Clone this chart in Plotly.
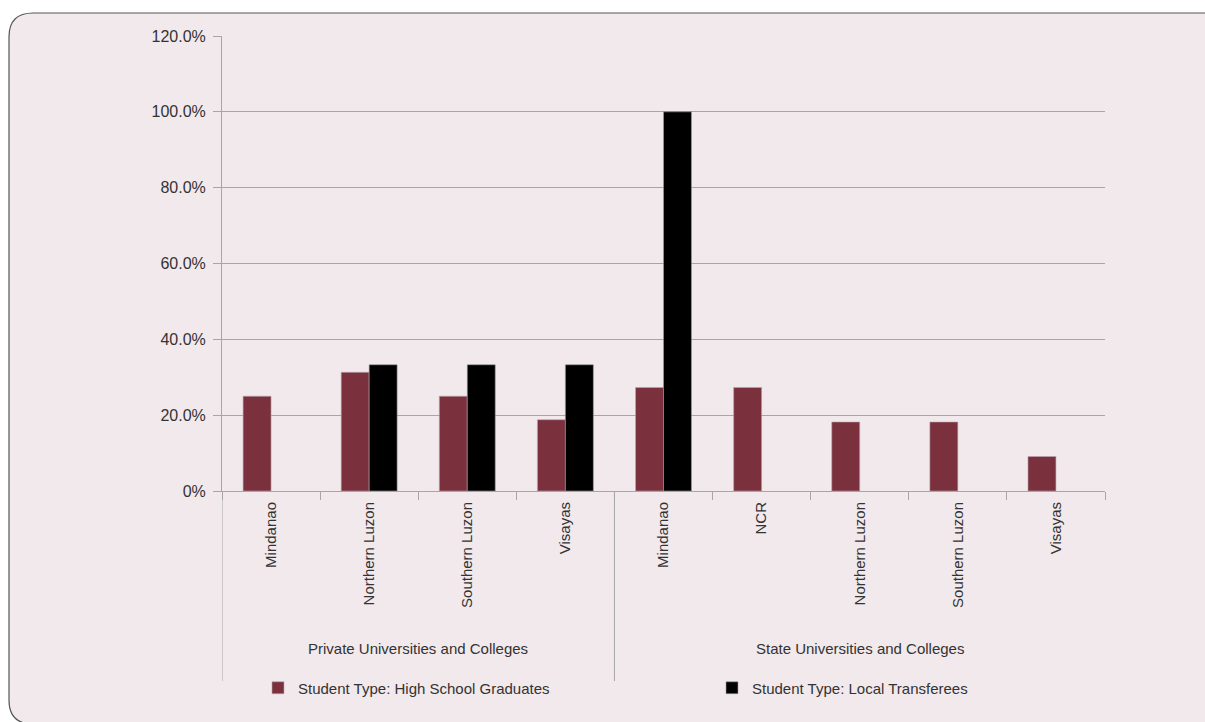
import plotly.graph_objects as go

group_names = ["Private Universities and Colleges", "State Universities and Colleges"]
group_sizes = [4, 5]
regions = ["Mindanao", "Northern Luzon", "Southern Luzon", "Visayas",
           "Mindanao", "NCR", "Northern Luzon", "Southern Luzon", "Visayas"]
high_school = [25.0, 31.3, 25.0, 18.8, 27.3, 27.3, 18.2, 18.2, 9.1]
transferees = [None, 33.3, 33.3, 33.3, 100.0, None, None, None, None]
ytick_vals = [0, 20, 40, 60, 80, 100, 120]
ytick_text = ["0%", "20.0%", "40.0%", "60.0%", "80.0%", "100.0%", "120.0%"]

FONT = "Liberation Sans, Arial, sans-serif"
BG = "#F2E9EC"
GRID = "#A6A6A6"
TXT = "#333333"

W, H = 1205, 722
ML, MR, MT, MB = 222, 100, 36, 231
PW, PH = W - ML - MR, H - MT - MB

xpos = list(range(len(regions)))

fig = go.Figure()
fig.add_trace(go.Bar(x=xpos, y=high_school,
                     name="Student Type: High School Graduates", legend="legend",
                     marker=dict(color="#7A303D", line=dict(color="#B8A8AC", width=0.6))))
fig.add_trace(go.Bar(x=xpos, y=transferees,
                     name="Student Type: Local Transferees", legend="legend2",
                     marker=dict(color="#000000", line=dict(color="#A0A0A0", width=0.6))))

def px2paper(x, y):
    return (x - ML) / PW, 1 - (y - MT) / PH

def py2paper(y):
    return 1 - (y - MT) / PH

# rounded background frame
x0, y0, x1, y1, r = 9, 13, 1240, 724, 24
def P(x, y):
    px, py = px2paper(x, y)
    return f"{px:.5f},{py:.5f}"
path = (f"M {P(x0 + r, y0)} L {P(x1, y0)} L {P(x1, y1)} L {P(x0 + r, y1)} "
        f"Q {P(x0, y1)} {P(x0, y1 - r)} L {P(x0, y0 + r)} Q {P(x0, y0)} {P(x0 + r, y0)} Z")
fig.add_shape(type="path", path=path, xref="paper", yref="paper",
              fillcolor=BG, line=dict(color="#555555", width=1.2), layer="below")

# group dividers and group labels
start = 0
bounds = [-0.5]
for name, n in zip(group_names, group_sizes):
    center = start + (n - 1) / 2
    fig.add_annotation(x=center, xref="x", y=py2paper(648), yref="paper",
                       text=name, showarrow=False, yanchor="middle",
                       font=dict(family=FONT, size=15, color=TXT))
    start += n
    bounds.append(start - 0.5)
for b in bounds[:-1]:
    fig.add_shape(type="line", xref="x", yref="paper", x0=b, x1=b,
                  y0=0, y1=py2paper(681), line=dict(color=GRID, width=1))

legend_common = dict(orientation="h", yanchor="middle", xanchor="left",
                     y=py2paper(688), bgcolor="rgba(0,0,0,0)",
                     font=dict(family=FONT, size=15, color=TXT), itemwidth=30)

fig.update_layout(
    width=W, height=H,
    margin=dict(l=ML, r=MR, t=MT, b=MB, autoexpand=False),
    paper_bgcolor="white", plot_bgcolor="rgba(0,0,0,0)",
    barmode="group", bargap=0.43, bargroupgap=0,
    font=dict(family=FONT, size=15, color=TXT),
    showlegend=True,
    legend=dict(x=(258 - ML) / PW, **legend_common),
    legend2=dict(x=(712 - ML) / PW, **legend_common),
    yaxis=dict(range=[0, 120], tickvals=ytick_vals, ticktext=ytick_text,
               showgrid=True, gridcolor=GRID, gridwidth=1,
               showline=True, linecolor=GRID, linewidth=1,
               ticks="outside", ticklen=8, tickcolor=GRID, ticklabelstandoff=4,
               zeroline=False, fixedrange=True, automargin=False,
               tickfont=dict(family=FONT, size=16, color=TXT)),
    xaxis=dict(range=[-0.5, len(regions) - 0.5], tickmode="array",
               tickvals=xpos, ticktext=regions, tickangle=-90,
               showgrid=False, zeroline=False, automargin=False,
               showline=True, linecolor=GRID, linewidth=1,
               ticks="", ticklabelstandoff=4,
               minor=dict(tickmode="linear", tick0=-0.5, dtick=1,
                          ticks="outside", ticklen=8, tickcolor=GRID, showgrid=False),
               tickfont=dict(family=FONT, size=15, color=TXT)),
)

fig.write_html("out.html")
